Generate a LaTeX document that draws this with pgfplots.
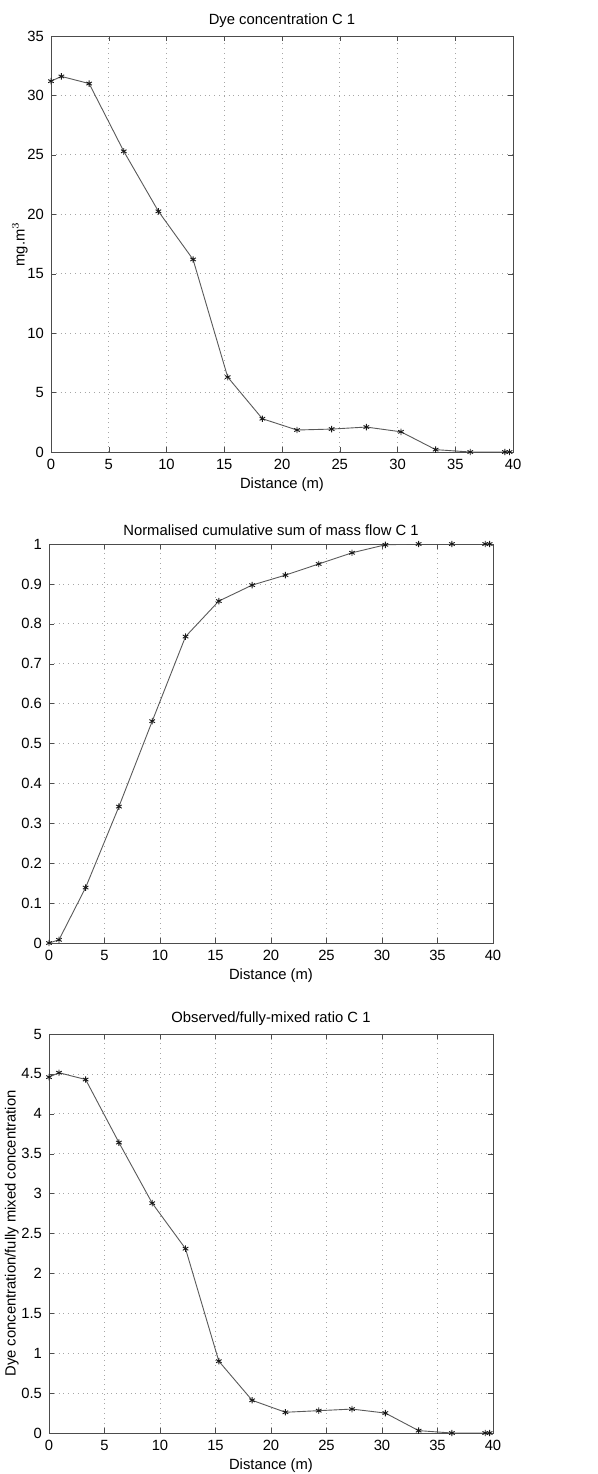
\documentclass[border=0pt]{standalone}
\usepackage{fontspec}
\setmainfont{Liberation Sans}
\usepackage{pgfplots}
\pgfplotsset{compat=1.18}

\pgfplotsset{
  matlab/.style={
    scale only axis,
    xmin=0, xmax=40, xtick={0,5,...,40},
    grid=major,
    major grid style={dotted, gray!70},
    axis line style={black!70},
    tick style={black!70},
    tick align=inside,
    major tick length=2.5pt,
    xtick pos=both, ytick pos=both,
    font=\fontsize{7.4}{8}\selectfont,
    /pgf/number format/assume math mode=true,
    /pgf/number format/fixed,
    title style={at={(0.5,1)}, anchor=south, yshift=-5.5pt},
    xlabel style={yshift=3pt},
    xlabel={Distance (m)},
  },
  ser/.style={black!65, line width=0.45pt, mark=asterisk, mark size=1.6pt,
    mark options={solid, black!90}},
}

\begin{document}
\begin{tikzpicture}
\useasboundingbox (0,0) rectangle (299pt,-737pt);

% top panel
\begin{axis}[matlab,
  at={(25.5pt,-226pt)}, anchor=south west,
  width=231pt, height=208pt,
  ymin=0, ymax=35, ytick={0,5,...,35},
  title={Dye concentration C 1},
  ylabel={mg.m$^{3}$},
  ylabel style={yshift=-7pt},
]
\addplot[ser] coordinates {
  (0,31.2) (0.9,31.6) (3.3,31.0) (6.3,25.3) (9.3,20.25) (12.3,16.2)
  (15.3,6.3) (18.3,2.8) (21.3,1.85) (24.3,1.93) (27.3,2.1) (30.3,1.7)
  (33.3,0.2) (36.3,0.0) (39.3,0.0) (39.7,0.0)
};
\end{axis}

% middle panel
\begin{axis}[matlab,
  at={(24.5pt,-471.5pt)}, anchor=south west,
  width=222pt, height=199.5pt,
  ymin=0, ymax=1, ytick={0,0.1,...,1.0},
  title={Normalised cumulative sum of mass flow C 1},
]
\addplot[ser] coordinates {
  (0,0) (0.9,0.008) (3.3,0.139) (6.3,0.342) (9.3,0.556) (12.3,0.768)
  (15.3,0.857) (18.3,0.897) (21.3,0.922) (24.3,0.950) (27.3,0.978)
  (30.3,0.998) (33.3,1.0) (36.3,1.0) (39.3,1.0) (39.7,1.0)
};
\end{axis}

% bottom panel
\begin{axis}[matlab,
  at={(24.5pt,-716.5pt)}, anchor=south west,
  width=222pt, height=199.5pt,
  ymin=0, ymax=5, ytick={0,0.5,...,5},
  title={Observed/fully-mixed ratio C 1},
  ylabel={Dye concentration/fully mixed concentration},
  ylabel style={yshift=-5.5pt},
]
\addplot[ser] coordinates {
  (0,4.46) (0.9,4.515) (3.3,4.43) (6.3,3.64) (9.3,2.88) (12.3,2.31)
  (15.3,0.90) (18.3,0.41) (21.3,0.26) (24.3,0.28) (27.3,0.30) (30.3,0.25)
  (33.3,0.03) (36.3,0.0) (39.3,0.0) (39.7,0.0)
};
\end{axis}
\end{tikzpicture}
\end{document}
